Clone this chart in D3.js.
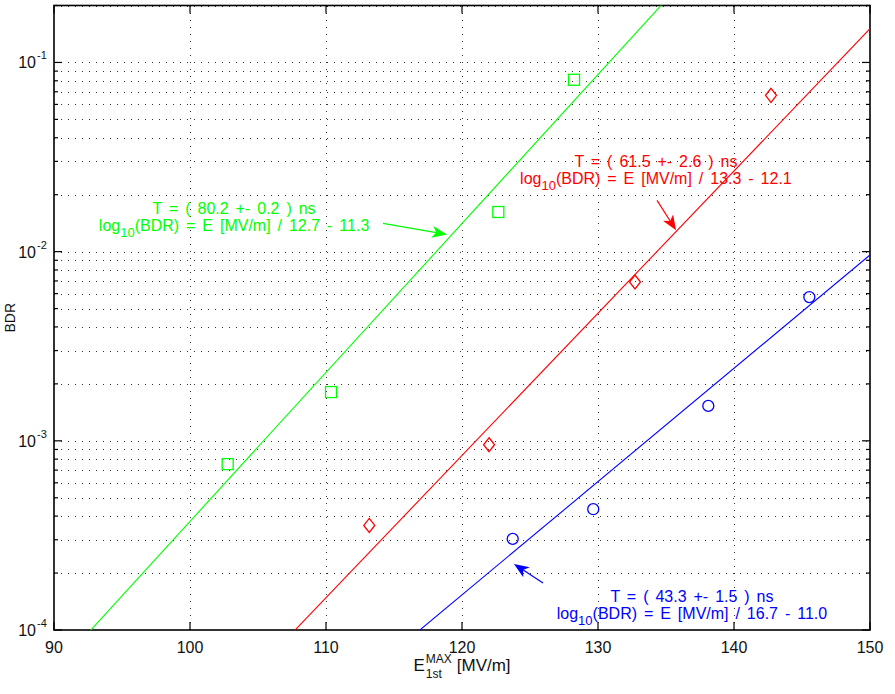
<!DOCTYPE html>
<html>
<head>
<meta charset="utf-8">
<script src="https://cdn.jsdelivr.net/npm/d3@7"></script>
<style>
  html, body { margin: 0; padding: 0; background: #fff; }
  svg { display: block; font-family: "Liberation Sans", Arial, Helvetica, sans-serif; }
</style>
</head>
<body>
<svg id="chart" width="895" height="694"></svg>
<script>
// Breakdown-rate measurements per pulse length
const seriesNames = ["80.2 ns", "61.5 ns", "43.3 ns"];
const seriesColors = ["#00ff00", "#ff0000", "#0000ff"];
const seriesMarkers = ["square", "diamond", "circle"];

const greenE = [102.77, 110.37, 122.67, 128.24];
const greenBDR = [7.53e-4, 1.81e-3, 1.62e-2, 8.1e-2];
const redE = [113.18, 121.99, 132.72, 142.72];
const redBDR = [3.57e-4, 9.53e-4, 6.91e-3, 6.7e-2];
const blueE = [123.73, 129.65, 138.11, 145.54];
const blueBDR = [3.03e-4, 4.35e-4, 1.53e-3, 5.75e-3];

// Fit: log10(BDR) = E / slope - offset
const fitSlope = [12.7, 13.3, 16.7];
const fitOffset = [11.3, 12.1, 11.0];
const pulseT = ["80.2", "61.5", "43.3"];
const pulseErr = ["0.2", "2.6", "1.5"];

// Annotation anchors in data units: [textE, textBDR, arrowFromE, arrowFromBDR, arrowToE, arrowToBDR]
const noteGreen = [103.24, 0.01574, 114.19, 0.0141, 118.9, 0.01233];
const noteRed = [134.26, 0.0279, 134.34, 0.01866, 135.74, 0.01297];
const noteBlue = [136.91, 1.41e-4, 125.96, 1.77e-4, 123.82, 2.23e-4];

const xDomain = [90, 150];
const yDomain = [1e-4, 0.2];
const xTicks = [90, 100, 110, 120, 130, 140, 150];
const yMajorExp = [-4, -3, -2, -1];

const svg = d3.select("#chart");
const margin = { left: 54, top: 5.5, right: 25, bottom: 64 };
const W = 895, H = 694;
const x0 = margin.left, x1 = W - margin.right;
const y0 = H - margin.bottom, y1 = margin.top;

const x = d3.scaleLinear().domain(xDomain).range([x0, x1]);
const y = d3.scaleLog().domain(yDomain).range([y0, y1]);

svg.append("defs").append("clipPath").attr("id", "plotclip")
  .append("rect").attr("x", x0).attr("y", y1).attr("width", x1 - x0).attr("height", y0 - y1);

// Minor and major log values inside the domain
const yAll = [];
for (const e of yMajorExp) for (let m = 1; m <= 9; m++) {
  const v = m * Math.pow(10, e);
  if (v >= yDomain[0] && v <= yDomain[1]) yAll.push({ v, major: m === 1 });
}

// Dotted grid
const grid = svg.append("g").attr("stroke", "#333").attr("stroke-width", 1)
  .attr("stroke-dasharray", "1,6").attr("shape-rendering", "crispEdges");
grid.selectAll("line.h").data(yAll.filter(d => d.v > yDomain[0])).join("line")
  .attr("x1", x0).attr("x2", x1)
  .attr("y1", d => Math.round(y(d.v)) + 0.5).attr("y2", d => Math.round(y(d.v)) + 0.5);
grid.selectAll("line.v").data(xTicks.filter(t => t > xDomain[0] && t < xDomain[1])).join("line")
  .attr("y1", y0).attr("y2", y1)
  .attr("x1", d => Math.round(x(d)) + 0.5).attr("x2", d => Math.round(x(d)) + 0.5);

// Ticks on all four sides (inward)
const ticks = svg.append("g").attr("stroke", "#000").attr("stroke-width", 1.2);
for (const t of xTicks) {
  ticks.append("line").attr("x1", x(t)).attr("x2", x(t)).attr("y1", y0).attr("y2", y0 - 8);
  ticks.append("line").attr("x1", x(t)).attr("x2", x(t)).attr("y1", y1).attr("y2", y1 + 8);
}
for (const d of yAll) {
  const len = d.major ? 8 : 4;
  ticks.append("line").attr("x1", x0).attr("x2", x0 + len).attr("y1", y(d.v)).attr("y2", y(d.v));
  ticks.append("line").attr("x1", x1).attr("x2", x1 - len).attr("y1", y(d.v)).attr("y2", y(d.v));
}

// Axis box
svg.append("rect").attr("x", x0).attr("y", y1).attr("width", x1 - x0).attr("height", y0 - y1)
  .attr("fill", "none").attr("stroke", "#000").attr("stroke-width", 1.6);

// X tick labels
svg.append("g").selectAll("text").data(xTicks).join("text")
  .attr("x", d => x(d)).attr("y", y0 + 23).attr("text-anchor", "middle")
  .attr("font-size", 16).attr("fill", "#111").text(d => d);

// Y tick labels: 10 with superscript exponent
const yl = svg.append("g").attr("fill", "#111");
for (const e of yMajorExp) {
  yl.append("text").attr("x", 36).attr("y", y(Math.pow(10, e)) + 6)
    .attr("text-anchor", "end").attr("font-size", 16).text("10");
  yl.append("text").attr("x", 37).attr("y", y(Math.pow(10, e)) - 3)
    .attr("font-size", 11).text(String(e));
}

// Axis labels
svg.append("text").attr("transform", `translate(15,${(y0 + y1) / 2}) rotate(-90)`)
  .attr("text-anchor", "middle").attr("font-size", 14).attr("fill", "#111").text("BDR");

const xl = svg.append("g").attr("fill", "#111");
const xlE = xl.append("text").attr("y", 671).attr("font-size", 17).text("E");
const xlSup = xl.append("text").attr("y", 663).attr("font-size", 12).text("MAX");
const xlSub = xl.append("text").attr("y", 678).attr("font-size", 12).text("1st");
const xlUnit = xl.append("text").attr("y", 671).attr("font-size", 17).text("[MV/m]");
{
  const wE = xlE.node().getComputedTextLength();
  const wS = Math.max(xlSup.node().getComputedTextLength(), xlSub.node().getComputedTextLength());
  const wU = xlUnit.node().getComputedTextLength();
  const total = wE + 1 + wS + 5 + wU;
  const start = (x0 + x1) / 2 - total / 2;
  xlE.attr("x", start);
  xlSup.attr("x", start + wE + 1);
  xlSub.attr("x", start + wE + 1);
  xlUnit.attr("x", start + wE + 1 + wS + 5);
}

// Fitted lines and measured points
const plot = svg.append("g").attr("clip-path", "url(#plotclip)");
const series = [
  { E: greenE, B: greenBDR }, { E: redE, B: redBDR }, { E: blueE, B: blueBDR }
];
const line = d3.line().x(d => x(d[0])).y(d => y(d[1]));
series.forEach((s, i) => {
  const fit = xDomain.map(e => [e, Math.pow(10, e / fitSlope[i] - fitOffset[i])]);
  plot.append("path").attr("d", line(fit)).attr("fill", "none")
    .attr("stroke", seriesColors[i]).attr("stroke-width", 1.1);

  const pts = s.E.map((e, k) => [e, s.B[k]]);
  const g = plot.append("g").attr("fill", "none").attr("stroke", seriesColors[i]).attr("stroke-width", 1.3);
  pts.forEach(p => {
    const cx = x(p[0]), cy = y(p[1]);
    if (seriesMarkers[i] === "square") {
      g.append("rect").attr("x", cx - 5.5).attr("y", cy - 5.5).attr("width", 11).attr("height", 11);
    } else if (seriesMarkers[i] === "diamond") {
      g.append("path").attr("d", `M${cx},${cy - 7}L${cx + 5.5},${cy}L${cx},${cy + 7}L${cx - 5.5},${cy}Z`);
    } else {
      g.append("circle").attr("cx", cx).attr("cy", cy).attr("r", 5.5);
    }
  });
});

// Fit annotations with arrows
function annotate(note, i) {
  const g = svg.append("g").attr("fill", seriesColors[i])
    .attr("font-size", 16).attr("word-spacing", "2.5px");
  const tx = x(note[0]), ty = y(note[1]);
  g.append("text").attr("x", tx).attr("y", ty).attr("text-anchor", "middle")
    .text(`T = ( ${pulseT[i]} +- ${pulseErr[i]} ) ns`);
  const t2 = g.append("text").attr("x", tx).attr("y", ty + 17).attr("text-anchor", "middle");
  t2.append("tspan").text("log");
  t2.append("tspan").attr("font-size", 13).attr("dy", 6).text("10");
  t2.append("tspan").attr("dy", -6).text(`(BDR) = E [MV/m] / ${fitSlope[i].toFixed(1)} - ${fitOffset[i].toFixed(1)}`);

  const ax0 = x(note[2]), ay0 = y(note[3]), ax1 = x(note[4]), ay1 = y(note[5]);
  const ang = Math.atan2(ay1 - ay0, ax1 - ax0);
  const L = 15, Wd = 6, back = 11;
  const bx = ax1 - back * Math.cos(ang), by = ay1 - back * Math.sin(ang);
  svg.append("line").attr("x1", ax0).attr("y1", ay0).attr("x2", bx).attr("y2", by)
    .attr("stroke", seriesColors[i]).attr("stroke-width", 1.2);
  const px = ax1 - L * Math.cos(ang), py = ay1 - L * Math.sin(ang);
  const nx = -Math.sin(ang), ny = Math.cos(ang);
  svg.append("path").attr("fill", seriesColors[i])
    .attr("d", `M${ax1},${ay1}L${px + nx * Wd},${py + ny * Wd}L${bx},${by}L${px - nx * Wd},${py - ny * Wd}Z`);
}
annotate(noteGreen, 0);
annotate(noteRed, 1);
annotate(noteBlue, 2);
</script>
</body>
</html>
